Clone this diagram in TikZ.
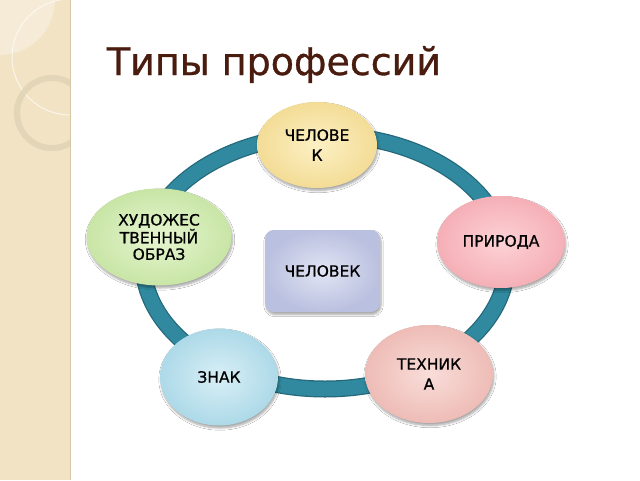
\documentclass[tikz,border=0pt]{standalone}
\usepackage{fontspec}
\setmainfont{DejaVu Sans}
\newfontfamily\boldish[FakeBold=0.8]{DejaVu Sans}
\usetikzlibrary{shapes.geometric,shadows.blur}
\definecolor{strip}{HTML}{F1E3C3}
\definecolor{stripline}{HTML}{D5C6A4}
\definecolor{stripring}{HTML}{DCD0B4}
\definecolor{striplight}{HTML}{F5EBD6}
\definecolor{titlecol}{HTML}{4A1C10}
\definecolor{ringcol}{HTML}{30899E}
\definecolor{ringdark}{HTML}{24687A}
\definecolor{ylin}{HTML}{FCF0C4}\definecolor{ylout}{HTML}{F3DC96}
\definecolor{grin}{HTML}{E6F5CF}\definecolor{grout}{HTML}{C8E5A6}
\definecolor{pkin}{HTML}{FCD2D6}\definecolor{pkout}{HTML}{F5AFB6}
\definecolor{blin}{HTML}{D8EFF6}\definecolor{blout}{HTML}{ADD9E8}
\definecolor{pcin}{HTML}{F9DDD9}\definecolor{pcout}{HTML}{EEBCB6}
\definecolor{lvin}{HTML}{E2E5F5}\definecolor{lvout}{HTML}{BAC0DF}
\tikzset{
  bubble/.style n args={2}{ellipse, inner sep=0pt, align=center,
    inner color=#1, outer color=#2, draw=none,
    font=\boldish\fontsize{15.5}{20}\selectfont,
    blur shadow={shadow xshift=1pt, shadow yshift=-2.5pt, shadow blur steps=6, shadow opacity=35}},
  centrebox/.style={rounded corners=9pt, inner sep=0pt, inner color=lvin, outer color=lvout,
    font=\boldish\fontsize{15.5}{20}\selectfont, minimum width=115pt, minimum height=82pt,
    blur shadow={shadow xshift=1pt, shadow yshift=-2.5pt, shadow blur steps=6, shadow opacity=35}},
  titlefont/.style={font=\boldish\fontsize{38}{46}\selectfont, anchor=base, inner sep=0pt}
}
\begin{document}
\begin{tikzpicture}[x=1pt,y=-1pt]
\useasboundingbox (0,0) rectangle (640,480);
\fill[white] (0,0) rectangle (640,480);
% left decorative strip
\fill[strip] (0,0) rectangle (70,480);
\begin{scope}
\clip (0,0) rectangle (70,480);
\fill[striplight] (0,0) circle[radius=55];
\draw[white, opacity=0.7, line width=1pt] (70,57) circle[radius=58];
\draw[stripring, opacity=0.7, line width=6pt] (52,113) circle[radius=35];
\end{scope}
\draw[stripline, line width=1pt] (70,0) -- (70,480);
% title
\node[titlefont, text=titlecol] (title) at (274,75) {Типы профессий};
% ring
\draw[ringdark, line width=17pt] (325,262) ellipse [x radius=182, y radius=127];
\draw[ringcol, line width=14.5pt] (325,262) ellipse [x radius=182, y radius=127];
% centre
\node[centrebox] (centre) at (322.5,271) {ЧЕЛОВЕК};
% outer bubbles
\node[bubble={ylin}{ylout}, minimum width=120pt, minimum height=86pt] (man) at (317,145) {ЧЕЛОВЕ\\К};
\node[bubble={grin}{grout}, minimum width=145pt, minimum height=97pt, font=\boldish\fontsize{15.5}{16.5}\selectfont] (art) at (159,237) {ХУДОЖЕС\\ТВЕННЫЙ\\ОБРАЗ};
\node[bubble={pkin}{pkout}, minimum width=128pt, minimum height=92pt] (nature) at (501,242) {ПРИРОДА};
\node[bubble={blin}{blout}, minimum width=118pt, minimum height=97pt] (sign) at (219,377) {ЗНАК};
\node[bubble={pcin}{pcout}, minimum width=128pt, minimum height=98pt] (tech) at (429,374) {ТЕХНИК\\А};
\end{tikzpicture}
\end{document}
